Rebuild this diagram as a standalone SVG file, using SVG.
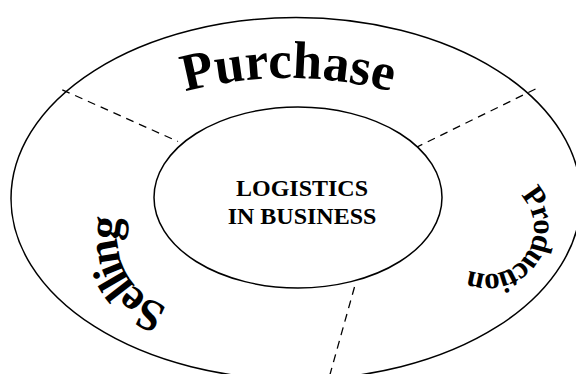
<svg xmlns="http://www.w3.org/2000/svg" width="576" height="374" viewBox="0 0 576 374">
  <style>
    .ring { fill: none; stroke: #000; stroke-width: 1.5; }
    .conn { fill: none; stroke: #000; stroke-width: 1.3; stroke-dasharray: 8 6; }
    .arch { font-family: "Liberation Serif", "Times New Roman", serif; font-weight: bold; fill: #000; }
    .core { font-family: "Liberation Serif", "Times New Roman", serif; font-weight: bold; font-size: 24px; fill: #000; text-anchor: middle; }
  </style>
  <defs>
    <path id="arcPurchase" d="M 30.9 171.6 A 400 400 0 0 1 545.1 171.6"/>
    <path id="arcSelling" d="M 199 308 A 69 69 0 0 1 134.1 195.6"/>
    <path id="arcProduction" d="M 496 182.7 A 46 46 0 1 1 448.2 251"/>
  </defs>
  <rect width="576" height="374" fill="#fff"/>
  <g id="outer-ring">
    <ellipse class="ring" cx="296" cy="198.5" rx="285" ry="181"/>
  </g>
  <g id="connectors">
    <line class="conn" x1="62.3" y1="89.8" x2="178" y2="141.5"/>
    <line class="conn" x1="535.5" y1="89" x2="417" y2="147"/>
    <line class="conn" x1="354.5" y1="287" x2="329" y2="378"/>
  </g>
  <g id="core">
    <ellipse class="ring" cx="298" cy="197.5" rx="144" ry="90.5"/>
    <text class="core" x="302" y="195.5">LOGISTICS</text>
    <text class="core" x="302" y="224">IN BUSINESS</text>
  </g>
  <g id="purchase">
    <text class="arch" font-size="53"><textPath href="#arcPurchase" startOffset="279.3" text-anchor="middle">Purchase</textPath></text>
  </g>
  <g id="selling">
    <text class="arch" font-size="45" letter-spacing="-3.2"><textPath href="#arcSelling" startOffset="85.5" text-anchor="middle">Selling</textPath></text>
  </g>
  <g id="production">
    <text class="arch" font-size="31" letter-spacing="-2.2"><textPath href="#arcProduction" startOffset="90.7" text-anchor="middle">Production</textPath></text>
  </g>
</svg>
